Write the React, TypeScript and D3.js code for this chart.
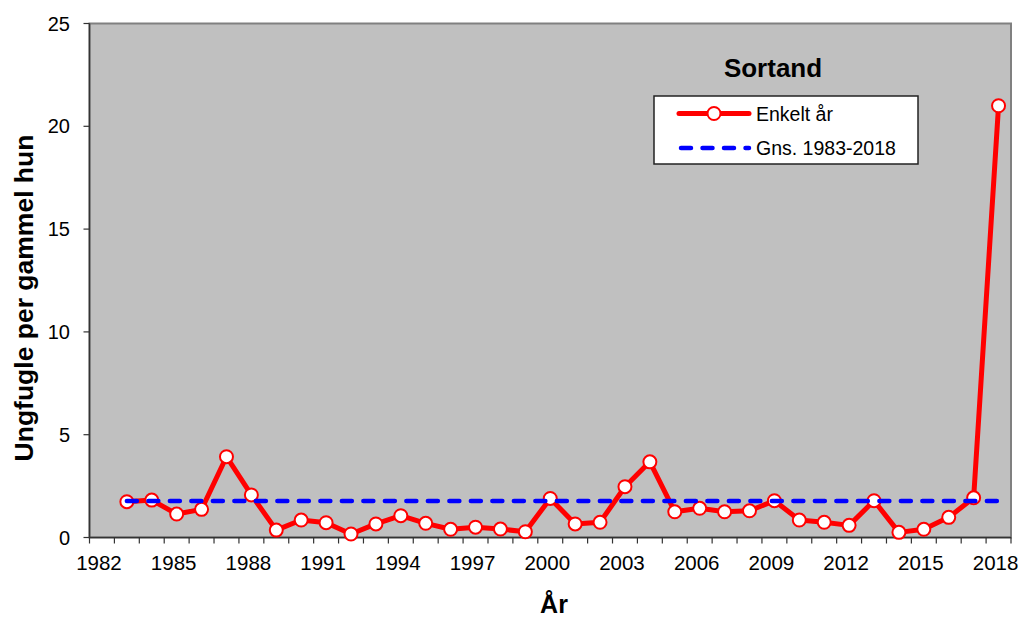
import React from "react";
import * as d3 from "d3";

// Sortand – young birds per old female, 1983-2018
const years = [
  1983, 1984, 1985, 1986, 1987, 1988, 1989, 1990, 1991, 1992, 1993, 1994,
  1995, 1996, 1997, 1998, 1999, 2000, 2001, 2002, 2003, 2004, 2005, 2006,
  2007, 2008, 2009, 2010, 2011, 2012, 2013, 2014, 2015, 2016, 2017, 2018,
];
const values = [
  1.74, 1.82, 1.14, 1.37, 3.93, 2.07, 0.36, 0.85, 0.72, 0.17, 0.66, 1.06,
  0.69, 0.4, 0.5, 0.41, 0.28, 1.9, 0.66, 0.74, 2.47, 3.68, 1.25, 1.42,
  1.25, 1.3, 1.79, 0.85, 0.74, 0.59, 1.79, 0.25, 0.4, 0.98, 1.93, 21.0,
];
const meanValue = 1.77;
// category axis starts one (empty) year before the data
const categories = [1982, ...years];
const yTicks = [0, 5, 10, 15, 20, 25];
const xTickLabels = [1982, 1985, 1988, 1991, 1994, 1997, 2000, 2003, 2006, 2009, 2012, 2015, 2018];

const W = 1020;
const H = 618;
const plot = { left: 89.5, right: 1011, top: 23.5, bottom: 537.5 };
const FONT = "Arial, 'Liberation Sans', sans-serif";

export default function App() {
  const y = d3.scaleLinear().domain([0, 25]).range([plot.bottom, plot.top]);
  const band = d3.scaleBand<number>().domain(categories).range([plot.left, plot.right]);
  const bw = band.bandwidth();
  const cx = (yr: number) => (band(yr) ?? 0) + bw / 2;

  const line = d3
    .line<number>()
    .x((_, i) => cx(years[i]))
    .y((d) => y(d));

  const tickPos = [...categories.map((c) => band(c) ?? 0), plot.right];

  return (
    <svg
      width={W}
      height={H}
      style={{ position: "absolute", left: 0, top: 0, display: "block", background: "#fff" }}
      fontFamily={FONT}
    >
      <rect
        x={plot.left}
        y={plot.top}
        width={plot.right - plot.left}
        height={plot.bottom - plot.top}
        fill="#C0C0C0"
        stroke="#808080"
        strokeWidth={2}
      />
      {/* axes */}
      <line x1={plot.left} x2={plot.left} y1={plot.top} y2={plot.bottom} stroke="#333" strokeWidth={1.5} />
      <line x1={plot.left} x2={plot.right} y1={plot.bottom} y2={plot.bottom} stroke="#333" strokeWidth={1.5} />
      {yTicks.map((t) => (
        <g key={t}>
          <line x1={plot.left - 6} x2={plot.left} y1={y(t)} y2={y(t)} stroke="#333" strokeWidth={1.2} />
          <text x={70} y={y(t) + 7} textAnchor="end" fontSize={20} fill="#000">
            {t}
          </text>
        </g>
      ))}
      {tickPos.map((p, i) => (
        <line key={i} x1={p} x2={p} y1={plot.bottom} y2={plot.bottom + 6} stroke="#333" strokeWidth={1.2} />
      ))}
      {xTickLabels.map((t) => (
        <text key={t} x={cx(t) - 3} y={570} textAnchor="middle" fontSize={20.5} fill="#000">
          {t}
        </text>
      ))}

      {/* series */}
      <path d={line(values) ?? ""} fill="none" stroke="#FF0000" strokeWidth={5} strokeLinejoin="round" />
      {values.map((v, i) => (
        <circle key={years[i]} cx={cx(years[i])} cy={y(v)} r={6.5} fill="#fff" stroke="#FF0000" strokeWidth={2} />
      ))}

      {/* mean line, drawn on top */}
      <line
        x1={cx(years[0])}
        x2={cx(years[years.length - 1])}
        y1={y(meanValue)}
        y2={y(meanValue)}
        stroke="#0000FF"
        strokeWidth={4.5}
        strokeDasharray="10 11.5"
        strokeLinecap="round"
      />

      {/* title + legend */}
      <text x={773} y={77} textAnchor="middle" fontSize={26} fontWeight="bold" fill="#000">
        Sortand
      </text>
      <rect x={654} y={96} width={264} height={68} fill="#fff" stroke="#222" strokeWidth={1.5} />
      <line x1={679} x2={749} y1={113.5} y2={113.5} stroke="#FF0000" strokeWidth={5} strokeLinecap="round" />
      <circle cx={714} cy={113.5} r={6.5} fill="#fff" stroke="#FF0000" strokeWidth={2} />
      <text x={756} y={120.5} fontSize={19.5} fill="#000">
        Enkelt år
      </text>
      <line
        x1={681}
        x2={749}
        y1={148}
        y2={148}
        stroke="#0000FF"
        strokeWidth={4.5}
        strokeDasharray="10 11.5"
        strokeLinecap="round"
      />
      <text x={756} y={155} fontSize={19.5} fill="#000">
        Gns. 1983-2018
      </text>

      {/* axis titles */}
      <text
        transform={`translate(33, 298) rotate(-90)`}
        textAnchor="middle"
        fontSize={26.5}
        fontWeight="bold"
        fill="#000"
      >
        Ungfugle per gammel hun
      </text>
      <text x={554} y={613} textAnchor="middle" fontSize={25} fontWeight="bold" fill="#000">
        År
      </text>
    </svg>
  );
}
